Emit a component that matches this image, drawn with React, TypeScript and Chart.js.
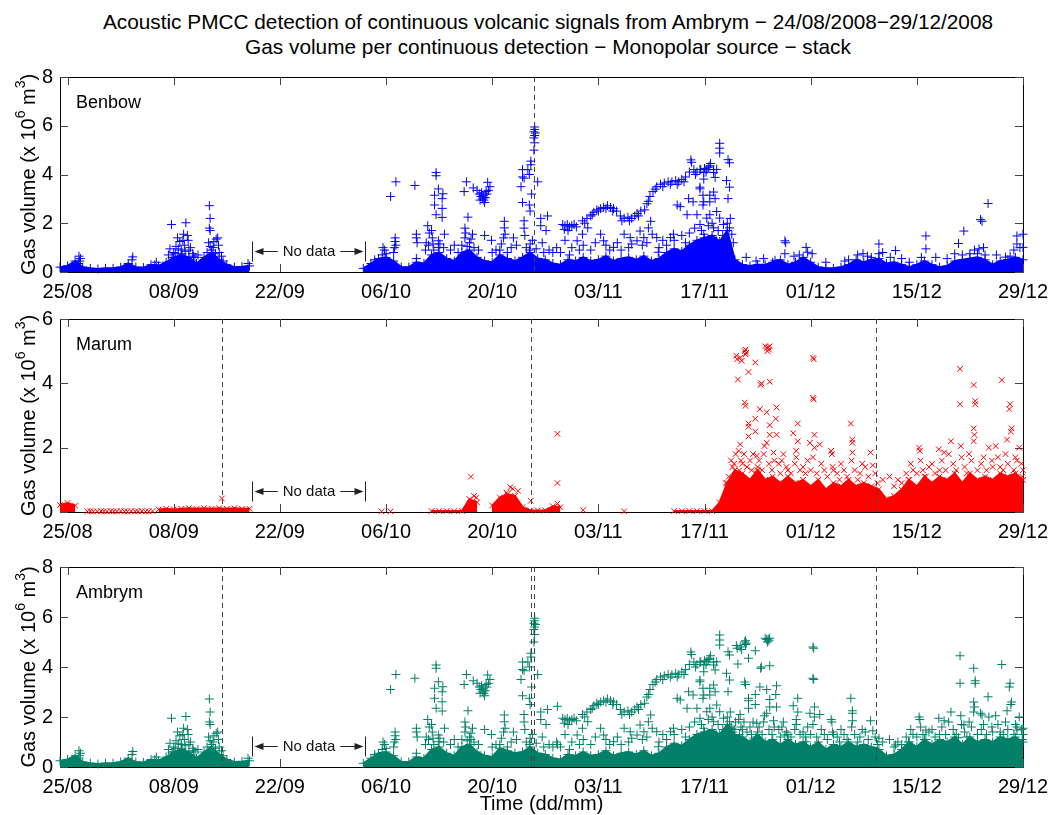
import React, { useEffect, useRef } from 'react';
import { Chart, registerables } from 'chart.js';

Chart.register(...registerables);

const FONT = '"Liberation Sans", Arial, Helvetica, sans-serif';

// x axis: days since 24/08/2008
const dayMax = 127;
const tickDays = [1, 15, 29, 43, 57, 71, 85, 99, 113, 127];
const tickLabels = ['25/08', '08/09', '22/09', '06/10', '20/10', '03/11', '17/11', '01/12', '15/12', '29/12'];
const noDataStart = 25.3;
const noDataEnd = 40.2;

const titleLine1 = 'Acoustic PMCC detection of continuous volcanic signals from Ambrym \u2212 24/08/2008\u221229/12/2008';
const titleLine2 = 'Gas volume per continuous detection \u2212 Monopolar source \u2212 stack';

// dashed event markers (day offsets)
const benbowEvents = [62.47];
const marumEvents = [21.35, 62.1, 107.6];
const ambrymEvents = [21.35, 62.1, 62.47, 107.6];

// upper edge of the dense cloud of detections, one value per day (null = no detection)
const benbowCore: (number | null)[] = [
  0.2, 0.25, 0.45, 0.2, 0.15, 0.12, 0.15, 0.15, 0.2, 0.35,
  0.2, 0.18, 0.3, 0.25, 0.4, 0.6, 0.7, 0.6, 0.35, 0.6,
  0.8, 0.5, 0.3, 0.2, 0.22, 0.25, null, null, null, null,
  null, null, null, null, null, null, null, null, null, null,
  0.15, 0.35, 0.55, 0.6, 0.45, 0.2, 0.2, 0.4, 0.35, 0.7,
  0.8, 0.55, 0.45, 0.8, 0.9, 0.6, 0.45, 0.4, 0.7, 0.55,
  0.45, 0.6, 0.8, 0.55, 0.5, 0.35, 0.3, 0.5, 0.45, 0.6,
  0.45, 0.5, 0.65, 0.45, 0.55, 0.6, 0.5, 0.65, 0.45, 0.55,
  0.8, 0.95, 0.85, 1.1, 1.3, 1.4, 1.5, 1.25, 1.7, 0.5,
  0.3, 0.25, 0.3, 0.3, 0.4, 0.5, 0.3, 0.4, 0.6, 0.4,
  0.2, 0.15, 0.15, 0.2, 0.3, 0.5, 0.4, 0.5, 0.55, 0.35,
  0.4, 0.3, 0.2, 0.3, 0.45, 0.3, 0.2, 0.25, 0.45, 0.5,
  0.55, 0.6, 0.5, 0.3, 0.45, 0.5, 0.6, 0.5,
];

const marumCore: (number | null)[] = [
  0.22, 0.28, 0.2, null, null, null, null, null, null, null,
  null, null, null, 0.08, 0.1, 0.08, 0.1, 0.12, 0.1, 0.12,
  0.1, 0.12, 0.1, 0.12, 0.1, 0.1, null, null, null, null,
  null, null, null, null, null, null, null, null, null, null,
  null, null, null, null, null, null, null, null, null, 0.03,
  0.03, 0.03, 0.03, 0.03, 0.4, 0.3, null, 0.2, 0.45, 0.55,
  0.5, 0.15, 0.05, 0.05, 0.05, 0.18, 0.15, null, null, null,
  null, null, null, null, null, null, null, null, null, null,
  null, 0.03, 0.03, 0.03, 0.03, 0.03, 0.03, 0.3, 0.9, 1.3,
  1.2, 1.0, 1.3, 1.0, 1.1, 0.9, 1.1, 0.9, 1.0, 0.8,
  1.0, 0.7, 0.9, 0.8, 1.0, 0.8, 0.9, 0.8, 0.7, 0.4,
  0.5, 0.7, 1.0, 0.8, 1.1, 0.9, 1.1, 1.0, 1.2, 0.9,
  1.2, 1.0, 1.1, 1.0, 1.2, 1.1, 1.2, 1.0,
];

const ambrymCore: (number | null)[] = [
  0.25, 0.3, 0.45, 0.2, 0.15, 0.12, 0.15, 0.15, 0.2, 0.35,
  0.2, 0.18, 0.3, 0.25, 0.4, 0.6, 0.7, 0.6, 0.35, 0.6,
  0.8, 0.5, 0.3, 0.2, 0.22, 0.25, null, null, null, null,
  null, null, null, null, null, null, null, null, null, null,
  0.15, 0.35, 0.55, 0.6, 0.45, 0.2, 0.2, 0.4, 0.35, 0.7,
  0.8, 0.55, 0.45, 0.8, 0.9, 0.6, 0.45, 0.4, 0.75, 0.65,
  0.55, 0.6, 0.8, 0.55, 0.5, 0.35, 0.3, 0.5, 0.45, 0.6,
  0.45, 0.5, 0.65, 0.45, 0.55, 0.6, 0.5, 0.65, 0.45, 0.55,
  0.8, 0.95, 0.85, 1.1, 1.3, 1.4, 1.5, 1.3, 1.7, 1.3,
  1.2, 1.0, 1.3, 1.0, 1.1, 0.9, 1.1, 0.9, 1.0, 0.8,
  1.0, 0.7, 0.9, 0.8, 1.0, 0.8, 0.9, 0.8, 0.7, 0.45,
  0.5, 0.7, 1.0, 0.8, 1.1, 0.9, 1.1, 1.0, 1.2, 0.9,
  1.2, 1.0, 1.1, 1.0, 1.2, 1.1, 1.2, 1.0,
];

type Pt = [number, number];

// scattered detections standing out of the dense cloud: [day, volume]
const benbowPoints: Pt[] = [
  [2.5, 0.65], [2.7, 0.55], [2.6, 0.45], [2.4, 0.35], [9.6, 0.62], [9.5, 0.5], [12.7, 0.4], [12.5, 0.3],
  [14.7, 1.95], [14.5, 0.95], [15.0, 0.8], [15.3, 1.05], [15.5, 1.4], [15.8, 1.25], [16.0, 0.9], [16.2, 1.3],
  [16.3, 1.55], [16.4, 1.1], [16.6, 2.02], [16.8, 1.5], [16.9, 1.3], [17.5, 0.75], [17.6, 0.65], [18.2, 0.7],
  [19.7, 2.72], [19.8, 2.2], [19.7, 1.8], [19.8, 1.7], [19.6, 1.2], [19.8, 1.05], [20.0, 0.9], [20.3, 1.25],
  [20.6, 1.35], [20.8, 1.4], [21.0, 0.8], [21.3, 0.65], [24.8, 0.35],
  [41.5, 0.5], [42.5, 0.7], [43.0, 0.75], [43.6, 3.1], [44.3, 3.7], [44.2, 1.4], [44.2, 1.25], [44.3, 1.1],
  [44.1, 1.0], [44.0, 0.8], [46.8, 3.55], [47.0, 1.55], [47.0, 1.4], [47.1, 1.2], [47.0, 0.55],
  [48.5, 1.9], [48.7, 1.6], [48.3, 1.2], [49.0, 1.7],
  [49.6, 4.08], [49.6, 3.95], [49.4, 3.15], [49.9, 3.41], [50.5, 3.21], [50.4, 3.01], [49.4, 2.75], [50.4, 2.61],
  [49.6, 2.35], [50.4, 2.24], [50.7, 1.55], [49.9, 1.28], [49.9, 1.01], [49.3, 0.9], [50.1, 1.15], [49.1, 1.4],
  [51.5, 0.9], [52.0, 1.1],
  [53.3, 3.3], [53.6, 3.7], [54.5, 3.45], [53.8, 2.25], [53.4, 1.8], [53.5, 1.6], [53.4, 1.4], [54.4, 1.55],
  [54.0, 1.2], [53.7, 1.05], [56.0, 1.5], [56.9, 1.3],
  [55.0, 3.35], [55.3, 3.2], [55.5, 3.1], [55.7, 3.0], [55.9, 2.95], [56.1, 3.05], [56.3, 3.2], [55.6, 3.25],
  [56.0, 2.85], [55.4, 2.95], [56.5, 3.35], [56.4, 3.68], [56.7, 3.5], [56.2, 3.3], [55.8, 3.15],
  [58.6, 2.08], [58.6, 1.81], [58.7, 1.55], [58.5, 1.4], [57.0, 0.8], [59.5, 1.0], [58.0, 0.9], [59.8, 1.4], [60.2, 1.1],
  [61.0, 4.2], [61.0, 3.9], [61.7, 4.2], [61.2, 3.85], [61.9, 4.0], [60.8, 3.5], [62.1, 4.4], [61.0, 2.85],
  [61.9, 2.75], [61.2, 2.1], [61.2, 1.8], [61.3, 1.5], [61.9, 0.9], [63.0, 3.7], [62.6, 5.95], [62.6, 5.85],
  [62.5, 5.75], [62.7, 5.7], [62.6, 5.6], [62.5, 5.5], [62.6, 5.3], [62.5, 5.0], [62.1, 4.55], [62.2, 3.2],
  [62.0, 2.5], [62.3, 1.3],
  [63.4, 2.2], [64.3, 2.3], [63.4, 1.9], [64.1, 1.7], [63.6, 1.2], [64.5, 0.9], [65.0, 0.8], [65.5, 1.0],
  [66.3, 1.95], [66.6, 1.9], [66.9, 1.95], [67.2, 1.85], [67.5, 1.9], [67.8, 1.95], [68.1, 1.85], [66.5, 1.75],
  [67.0, 1.7], [66.6, 1.3], [67.5, 1.0],
  [68.9, 2.1], [69.5, 2.2], [70.0, 2.3], [70.4, 2.45], [70.8, 2.55], [71.3, 2.6], [71.7, 2.65], [72.2, 2.72],
  [72.6, 2.65], [73.0, 2.6], [73.4, 2.5], [73.9, 2.3], [74.4, 2.2], [74.9, 2.25], [75.4, 2.2], [75.8, 2.3],
  [76.1, 2.4], [76.6, 2.5], [77.1, 2.55], [77.4, 2.8], [77.8, 3.1], [78.2, 3.3], [78.7, 3.5], [79.2, 3.6],
  [79.7, 3.65], [80.2, 3.7], [80.7, 3.7], [81.2, 3.75], [81.6, 3.7], [82.0, 3.8], [82.5, 3.9], [83.0, 4.1],
  [83.2, 4.6], [83.3, 4.5], [83.6, 4.2], [84.0, 4.1], [84.5, 4.2], [85.0, 4.25], [85.5, 4.3], [85.8, 4.45], [86.2, 4.2],
  [69.2, 2.0], [70.2, 2.35], [71.0, 2.5], [72.0, 2.6], [72.9, 2.5], [74.1, 2.1], [75.1, 2.1], [76.3, 2.3],
  [77.6, 2.9], [78.5, 3.4], [79.5, 3.5], [80.5, 3.6], [81.4, 3.6], [82.3, 3.7], [83.8, 4.0], [85.2, 4.1],
  [68.2, 1.28], [68.9, 1.55], [69.6, 1.81], [71.3, 1.55], [71.7, 1.28], [73.0, 1.01], [74.4, 1.55], [75.2, 1.41],
  [75.4, 1.15], [76.1, 1.28], [76.5, 1.68], [77.0, 1.41], [77.6, 1.81], [77.9, 2.08], [78.1, 1.55], [78.7, 1.41],
  [78.9, 0.81], [80.5, 1.41], [80.9, 1.55], [81.4, 2.75], [81.8, 2.68], [82.7, 2.35], [82.9, 3.01], [83.5, 2.88],
  [84.0, 2.35], [84.4, 3.48], [84.8, 3.15], [84.8, 2.75], [85.3, 2.21], [85.7, 2.88], [86.2, 3.28],
  [87.0, 5.28], [87.0, 5.08], [87.0, 4.88], [88.1, 4.61], [88.3, 4.48], [87.9, 3.75], [88.3, 3.48], [88.1, 3.01],
  [86.6, 4.21], [85.7, 4.35], [85.3, 4.21], [84.9, 4.08], [84.4, 4.21], [86.2, 4.08], [86.4, 3.88], [84.9, 3.81],
  [84.4, 3.41], [84.9, 2.88], [85.7, 3.15], [86.4, 3.01], [86.6, 2.48], [87.0, 2.21], [85.7, 2.35], [84.4, 1.95],
  [86.2, 1.81], [84.9, 1.55], [87.5, 1.95], [88.3, 1.81], [88.6, 1.55], [86.6, 1.28], [85.3, 1.15], [87.9, 1.15],
  [95.6, 1.28], [95.6, 0.75], [95.7, 1.2], [98.4, 1.01], [98.6, 0.81], [99.2, 0.75], [105.9, 0.75], [108.0, 1.15],
  [108.0, 0.75], [110.2, 0.88], [114.2, 1.48], [114.2, 0.95], [119.2, 1.68], [118.5, 1.17], [121.4, 2.15], [121.6, 2.08],
  [122.4, 2.81], [121.2, 0.95], [121.0, 0.75], [126.2, 1.48], [127.0, 1.55], [126.2, 1.15], [127.0, 1.01], [124.7, 0.61],
  [125.3, 0.65], [94.3, 0.48], [91.8, 0.45], [104.0, 0.5], [107.0, 0.6], [112.0, 0.4], [117.0, 0.55], [119.0, 0.7],
  [120.0, 0.75], [122.0, 0.7],
];

// denser towers of detections just above the solid cloud
const benbowTowers: Pt[] = [
  [14.3, 0.7], [14.8, 0.6], [15.2, 0.75], [15.6, 0.95], [16.1, 0.75], [16.5, 0.85], [17.0, 0.9], [17.2, 1.0],
  [17.8, 0.6], [19.4, 0.8], [19.9, 0.65], [20.2, 1.0], [20.5, 0.75], [20.9, 1.1], [21.5, 0.45],
  [42.6, 1.0], [42.8, 0.9], [48.2, 0.9], [48.6, 1.1], [49.2, 1.15], [50.6, 1.0], [52.5, 0.8], [53.0, 1.1],
  [54.2, 1.35], [54.6, 1.0], [55.2, 0.9], [57.5, 0.9], [58.2, 1.15], [59.0, 0.8], [61.5, 1.0], [62.0, 1.15],
  [62.8, 0.95], [63.8, 0.8], [66.0, 0.8], [67.2, 0.7], [68.5, 0.9], [69.0, 1.1], [70.0, 0.9], [70.6, 1.2],
  [72.0, 1.1], [72.5, 0.9], [73.5, 1.2], [74.0, 0.9], [75.0, 1.0], [76.8, 1.1], [77.4, 1.2], [79.0, 1.0],
  [79.5, 1.3], [80.0, 1.1], [81.0, 1.3], [82.0, 1.5], [82.5, 1.2], [83.0, 1.6], [83.7, 1.8], [84.6, 1.7],
  [85.5, 1.9], [86.0, 2.0], [86.8, 1.7], [87.4, 1.5], [88.0, 2.0], [88.4, 2.2], [88.8, 1.2],
  [90.5, 0.6], [92.8, 0.55], [96.8, 0.65], [97.5, 0.7], [101.0, 0.4], [103.5, 0.45], [105.2, 0.7], [106.5, 0.65],
  [108.5, 0.8], [109.5, 0.6], [111.0, 0.55], [113.6, 0.6], [115.5, 0.6], [118.0, 0.75], [120.6, 0.9], [121.8, 1.0],
  [123.5, 0.7], [125.8, 0.9], [126.6, 1.0],
];

const marumPoints: Pt[] = [
  [3.6, 0.02], [4.0, 0.03], [4.4, 0.02], [4.9, 0.02], [5.4, 0.03], [5.8, 0.02], [6.2, 0.02], [6.7, 0.03],
  [7.1, 0.02], [7.5, 0.02], [8.0, 0.03], [8.5, 0.02], [8.9, 0.02], [9.4, 0.03], [9.9, 0.02], [10.3, 0.02],
  [10.8, 0.03], [11.3, 0.02], [11.7, 0.02], [12.2, 0.03],
  [21.35, 0.42], [42.4, 0.02], [43.6, 0.02],
  [54.2, 1.1], [54.6, 0.5], [54.9, 0.45], [58.4, 0.41], [59.4, 0.77], [59.7, 0.72], [60.4, 0.66], [58.9, 0.6],
  [62.1, 0.35], [65.6, 2.43], [65.6, 0.9], [65.6, 0.26], [69.0, 0.06], [74.4, 0.02],
  [89.2, 4.86], [89.3, 4.75], [89.7, 4.8], [89.9, 4.7], [90.3, 5.0], [90.4, 4.9], [90.5, 4.95], [90.4, 5.05],
  [89.4, 4.12], [90.8, 4.35], [91.7, 4.65],
  [93.0, 5.15], [93.2, 5.1], [93.4, 5.12], [93.5, 5.05], [93.6, 5.15], [93.3, 5.0],
  [92.5, 4.0], [92.4, 3.95], [93.6, 4.05],
  [90.3, 3.4], [90.4, 3.3], [90.8, 2.75], [90.8, 2.65], [91.7, 2.9], [92.3, 3.2], [93.2, 3.1], [94.5, 3.25],
  [94.4, 2.9], [93.6, 2.7], [93.6, 2.4], [90.8, 2.35], [91.7, 2.5], [93.2, 2.15], [89.7, 2.1], [89.5, 1.9],
  [91.9, 1.75], [92.9, 2.05], [94.1, 1.85], [94.5, 2.4],
  [99.3, 4.8], [99.4, 4.75], [99.3, 3.55], [99.4, 3.5], [99.5, 2.4], [99.5, 2.0], [99.3, 1.7],
  [97.3, 2.75], [96.7, 2.45], [97.3, 2.2], [97.1, 1.9], [97.1, 1.7], [95.4, 1.8], [100.2, 2.1], [98.9, 2.15],
  [101.7, 1.9], [101.8, 1.8], [101.9, 1.4],
  [104.3, 2.75], [104.5, 2.25], [104.5, 2.15], [104.5, 1.85], [104.4, 1.6],
  [106.9, 1.85], [107.2, 1.45], [109.4, 1.1], [111.6, 1.2], [113.3, 2.0], [113.4, 1.9], [113.5, 1.6],
  [115.9, 1.95], [116.6, 1.85], [117.5, 2.2], [117.2, 1.8],
  [118.7, 4.45], [118.7, 3.35], [118.8, 2.05],
  [120.5, 3.95], [120.7, 3.45], [120.7, 3.35], [120.5, 2.6], [120.6, 2.4], [120.5, 2.2], [119.9, 1.8],
  [124.2, 4.1], [125.3, 3.35], [125.2, 3.2], [125.5, 2.6], [125.4, 2.5], [124.9, 2.25], [126.8, 1.5], [122.5, 2.0],
  [123.4, 2.05],
];

const marumTowers: Pt[] = [
  [88.5, 1.6], [88.7, 1.4], [90.0, 1.5], [91.0, 1.6], [92.0, 1.4], [94.8, 1.5], [96.0, 1.3], [98.0, 1.4],
  [100.8, 1.3], [102.5, 1.2], [103.4, 1.3], [105.5, 1.2], [106.2, 1.4], [110.5, 1.0], [112.5, 1.3], [114.6, 1.4],
  [116.0, 1.3], [119.3, 1.4], [121.5, 1.5], [122.9, 1.6], [124.0, 1.4], [126.0, 1.7], [126.5, 2.0], [127.0, 1.3],
  [87.8, 0.9], [88.2, 1.1], [88.9, 1.5], [89.1, 1.8], [89.6, 1.3], [89.8, 1.6], [90.2, 1.8], [90.6, 1.4],
  [91.2, 1.3], [91.4, 1.8], [91.8, 1.2], [92.2, 1.6], [92.6, 1.3], [92.8, 1.8], [93.5, 1.5], [93.9, 1.3],
  [94.2, 1.6], [95.0, 1.2], [95.2, 1.6], [95.8, 1.4], [96.4, 1.2], [96.9, 1.5], [97.6, 1.3], [98.3, 1.2],
  [98.6, 1.6], [99.0, 1.3], [99.8, 1.2], [100.4, 1.5], [101.2, 1.1], [102.0, 1.3], [102.8, 1.0], [103.0, 1.5],
  [103.8, 1.1], [104.8, 1.3], [105.2, 1.0], [105.8, 1.5], [106.6, 1.1], [107.5, 1.2], [107.8, 0.9], [108.5, 1.0],
  [110.0, 0.8], [111.0, 0.9], [111.9, 1.0], [112.2, 1.5], [113.0, 1.2], [113.8, 1.3], [114.2, 1.1], [115.0, 1.5],
  [115.4, 1.2], [116.3, 1.6], [116.8, 1.3], [117.8, 1.5], [118.2, 1.3], [118.9, 1.7], [119.6, 1.2], [120.2, 1.6],
  [121.0, 1.3], [121.8, 1.7], [122.2, 1.3], [123.0, 1.4], [123.7, 1.7], [124.4, 1.3], [124.7, 1.8], [125.0, 1.5],
  [125.8, 1.3], [126.2, 1.6], [126.9, 1.1],
];

const ambrymPoints: Pt[] = [
  [2.5, 0.65], [2.7, 0.55], [2.6, 0.45], [2.4, 0.35], [9.6, 0.62], [9.5, 0.5], [12.7, 0.4], [12.5, 0.3],
  [14.7, 1.95], [14.5, 0.95], [15.0, 0.8], [15.3, 1.05], [15.5, 1.4], [15.8, 1.25], [16.0, 0.9], [16.2, 1.3],
  [16.3, 1.55], [16.4, 1.1], [16.6, 2.02], [16.8, 1.5], [16.9, 1.3], [17.5, 0.75], [17.6, 0.65], [18.2, 0.7],
  [19.7, 2.72], [19.8, 2.2], [19.7, 1.8], [19.8, 1.7], [19.6, 1.2], [19.8, 1.05], [20.0, 0.9], [20.3, 1.25],
  [20.6, 1.35], [20.8, 1.4], [21.0, 0.8], [21.3, 0.65], [24.8, 0.35],
  [41.5, 0.5], [42.5, 0.7], [43.0, 0.75], [43.6, 3.1], [44.3, 3.7], [44.2, 1.4], [44.2, 1.25], [44.3, 1.1],
  [44.1, 1.0], [44.0, 0.8], [46.8, 3.55], [47.0, 1.55], [47.0, 1.4], [47.1, 1.2], [47.0, 0.55],
  [48.5, 1.9], [48.7, 1.6], [48.3, 1.2], [49.0, 1.7],
  [49.6, 4.08], [49.6, 3.95], [49.4, 3.15], [49.9, 3.41], [50.5, 3.21], [50.4, 3.01], [49.4, 2.75], [50.4, 2.61],
  [49.6, 2.35], [50.4, 2.24], [50.7, 1.55], [49.9, 1.28], [49.9, 1.01], [49.3, 0.9], [50.1, 1.15], [49.1, 1.4],
  [51.5, 0.9], [52.0, 1.1],
  [53.3, 3.3], [53.6, 3.7], [54.5, 3.45], [53.8, 2.25], [53.4, 1.8], [53.5, 1.6], [53.4, 1.4], [54.4, 1.55],
  [54.0, 1.2], [53.7, 1.05], [56.0, 1.5], [56.9, 1.3], [54.2, 1.1],
  [55.0, 3.35], [55.3, 3.2], [55.5, 3.1], [55.7, 3.0], [55.9, 2.95], [56.1, 3.05], [56.3, 3.2], [55.6, 3.25],
  [56.0, 2.85], [55.4, 2.95], [56.5, 3.35], [56.4, 3.68], [56.7, 3.5], [56.2, 3.3], [55.8, 3.15],
  [58.6, 2.08], [58.6, 1.81], [58.7, 1.55], [58.5, 1.4], [57.0, 0.8], [59.5, 1.0], [58.0, 0.9], [59.8, 1.4], [60.2, 1.1],
  [61.0, 4.2], [61.0, 3.9], [61.7, 4.2], [61.2, 3.85], [61.9, 4.0], [60.8, 3.5], [62.1, 4.4], [61.0, 2.85],
  [61.9, 2.75], [61.2, 2.1], [61.2, 1.8], [61.3, 1.5], [61.9, 0.9], [63.0, 3.7], [62.6, 5.95], [62.6, 5.85],
  [62.5, 5.75], [62.7, 5.7], [62.6, 5.6], [62.5, 5.5], [62.6, 5.3], [62.5, 5.0], [62.1, 4.55], [62.2, 3.2],
  [62.0, 2.5], [62.3, 1.3],
  [63.4, 2.2], [64.3, 2.3], [63.4, 1.9], [64.1, 1.7], [63.6, 1.2], [64.5, 0.9], [65.0, 0.8], [65.5, 1.0],
  [65.6, 2.43], [65.6, 0.9],
  [66.3, 1.95], [66.6, 1.9], [66.9, 1.95], [67.2, 1.85], [67.5, 1.9], [67.8, 1.95], [68.1, 1.85], [66.5, 1.75],
  [67.0, 1.7], [66.6, 1.3], [67.5, 1.0],
  [68.9, 2.1], [69.5, 2.2], [70.0, 2.3], [70.4, 2.45], [70.8, 2.55], [71.3, 2.6], [71.7, 2.65], [72.2, 2.72],
  [72.6, 2.65], [73.0, 2.6], [73.4, 2.5], [73.9, 2.3], [74.4, 2.2], [74.9, 2.25], [75.4, 2.2], [75.8, 2.3],
  [76.1, 2.4], [76.6, 2.5], [77.1, 2.55], [77.4, 2.8], [77.8, 3.1], [78.2, 3.3], [78.7, 3.5], [79.2, 3.6],
  [79.7, 3.65], [80.2, 3.7], [80.7, 3.7], [81.2, 3.75], [81.6, 3.7], [82.0, 3.8], [82.5, 3.9], [83.0, 4.1],
  [83.2, 4.6], [83.3, 4.5], [83.6, 4.2], [84.0, 4.1], [84.5, 4.2], [85.0, 4.25], [85.5, 4.3], [85.8, 4.45], [86.2, 4.2],
  [69.2, 2.0], [70.2, 2.35], [71.0, 2.5], [72.0, 2.6], [72.9, 2.5], [74.1, 2.1], [75.1, 2.1], [76.3, 2.3],
  [77.6, 2.9], [78.5, 3.4], [79.5, 3.5], [80.5, 3.6], [81.4, 3.6], [82.3, 3.7], [83.8, 4.0], [85.2, 4.1],
  [68.2, 1.28], [68.9, 1.55], [69.6, 1.81], [71.3, 1.55], [71.7, 1.28], [73.0, 1.01], [74.4, 1.55], [75.2, 1.41],
  [75.4, 1.15], [76.1, 1.28], [76.5, 1.68], [77.0, 1.41], [77.6, 1.81], [77.9, 2.08], [78.1, 1.55], [78.7, 1.41],
  [78.9, 0.81], [80.5, 1.41], [80.9, 1.55], [81.4, 2.75], [81.8, 2.68], [82.7, 2.35], [82.9, 3.01], [83.5, 2.88],
  [84.0, 2.35], [84.4, 3.48], [84.8, 3.15], [84.8, 2.75], [85.3, 2.21], [85.7, 2.88], [86.2, 3.28],
  [87.0, 5.28], [87.0, 5.08], [87.0, 4.88], [88.1, 4.61], [88.3, 4.48], [87.9, 3.75], [88.3, 3.48], [88.1, 3.01],
  [86.6, 4.21], [85.7, 4.35], [85.3, 4.21], [84.9, 4.08], [84.4, 4.21], [86.2, 4.08], [86.4, 3.88], [84.9, 3.81],
  [84.4, 3.41], [84.9, 2.88], [85.7, 3.15], [86.4, 3.01], [86.6, 2.48], [87.0, 2.21], [85.7, 2.35], [84.4, 1.95],
  [86.2, 1.81], [84.9, 1.55], [87.5, 1.95], [88.3, 1.81], [88.6, 1.55], [86.6, 1.28], [85.3, 1.15], [87.9, 1.15],
  [89.2, 4.86], [89.3, 4.75], [89.7, 4.8], [89.9, 4.7], [90.3, 5.0], [90.4, 4.9], [90.5, 4.95], [90.4, 5.05],
  [89.4, 4.12], [90.8, 4.35], [91.7, 4.65],
  [93.0, 5.15], [93.2, 5.1], [93.4, 5.12], [93.5, 5.05], [93.6, 5.15], [93.3, 5.0],
  [92.5, 4.0], [92.4, 3.95], [93.6, 4.05],
  [90.3, 3.4], [90.4, 3.3], [90.8, 2.75], [90.8, 2.65], [91.7, 2.9], [92.3, 3.2], [93.2, 3.1], [94.5, 3.25],
  [94.4, 2.9], [93.6, 2.7], [93.6, 2.4], [90.8, 2.35], [91.7, 2.5], [93.2, 2.15], [89.7, 2.1], [89.5, 1.9],
  [91.9, 1.75], [92.9, 2.05], [94.1, 1.85], [94.5, 2.4],
  [99.3, 4.8], [99.4, 4.75], [99.3, 3.55], [99.4, 3.5], [99.5, 2.4], [99.5, 2.0], [99.3, 1.7],
  [97.3, 2.75], [96.7, 2.45], [97.3, 2.2], [97.1, 1.9], [97.1, 1.7], [95.4, 1.8], [100.2, 2.1], [98.9, 2.15],
  [101.7, 1.9], [101.8, 1.8], [101.9, 1.4],
  [104.3, 2.75], [104.5, 2.25], [104.5, 2.15], [104.5, 1.85], [104.4, 1.6],
  [106.9, 1.85], [107.2, 1.45], [109.4, 1.1], [111.6, 1.2], [113.3, 2.0], [113.4, 1.9], [113.5, 1.6],
  [115.9, 1.95], [116.6, 1.85], [117.5, 2.2], [117.2, 1.8],
  [118.7, 4.45], [118.7, 3.35], [118.8, 2.05],
  [120.5, 3.95], [120.7, 3.45], [120.7, 3.35], [120.5, 2.6], [120.6, 2.4], [120.5, 2.2], [119.9, 1.8],
  [124.2, 4.1], [125.3, 3.35], [125.2, 3.2], [125.5, 2.6], [125.4, 2.5], [124.9, 2.25], [126.8, 1.5], [122.5, 2.0],
  [123.4, 2.05],
  [95.6, 1.28], [98.4, 1.01], [108.0, 1.15], [110.2, 0.88], [114.2, 1.48], [119.2, 1.68], [118.5, 1.17], [121.4, 2.15],
  [121.6, 2.08], [122.4, 2.81], [126.2, 1.48], [127.0, 1.55],
];

const ambrymTowers: Pt[] = [
  [14.3, 0.7], [14.8, 0.6], [15.2, 0.75], [15.6, 0.95], [16.1, 0.75], [16.5, 0.85], [17.0, 0.9], [17.2, 1.0],
  [17.8, 0.6], [19.4, 0.8], [19.9, 0.65], [20.2, 1.0], [20.5, 0.75], [20.9, 1.1], [21.5, 0.45],
  [42.6, 1.0], [42.8, 0.9], [48.2, 0.9], [48.6, 1.1], [49.2, 1.15], [50.6, 1.0], [52.5, 0.8], [53.0, 1.1],
  [54.2, 1.35], [54.6, 1.0], [55.2, 0.9], [57.5, 0.9], [58.2, 1.15], [59.0, 0.8], [61.5, 1.0], [62.0, 1.15],
  [62.8, 0.95], [63.8, 0.8], [66.0, 0.8], [67.2, 0.7], [68.5, 0.9], [69.0, 1.1], [70.0, 0.9], [70.6, 1.2],
  [72.0, 1.1], [72.5, 0.9], [73.5, 1.2], [74.0, 0.9], [75.0, 1.0], [76.8, 1.1], [77.4, 1.2], [79.0, 1.0],
  [79.5, 1.3], [80.0, 1.1], [81.0, 1.3], [82.0, 1.5], [82.5, 1.2], [83.0, 1.6], [83.7, 1.8], [84.6, 1.7],
  [85.5, 1.9], [86.0, 2.0], [86.8, 1.7], [87.4, 1.5], [88.0, 2.0], [88.4, 2.2], [88.8, 1.2],
  [88.5, 1.6], [88.7, 1.4], [90.0, 1.5], [91.0, 1.6], [92.0, 1.4], [94.8, 1.5], [96.0, 1.3], [98.0, 1.4],
  [100.8, 1.3], [102.5, 1.2], [103.4, 1.3], [105.5, 1.2], [106.2, 1.4], [110.5, 1.0], [112.5, 1.3], [114.6, 1.4],
  [116.0, 1.3], [119.3, 1.4], [121.5, 1.5], [122.9, 1.6], [124.0, 1.4], [126.0, 1.7], [126.5, 2.0], [127.0, 1.3],
  [87.8, 0.9], [88.2, 1.1], [88.9, 1.5], [89.1, 1.8], [89.6, 1.3], [89.8, 1.6], [90.2, 1.8], [90.6, 1.4],
  [91.2, 1.3], [91.4, 1.8], [91.8, 1.2], [92.2, 1.6], [92.6, 1.3], [92.8, 1.8], [93.5, 1.5], [93.9, 1.3],
  [94.2, 1.6], [95.0, 1.2], [95.2, 1.6], [95.8, 1.4], [96.4, 1.2], [96.9, 1.5], [97.6, 1.3], [98.3, 1.2],
  [98.6, 1.6], [99.0, 1.3], [99.8, 1.2], [100.4, 1.5], [101.2, 1.1], [102.0, 1.3], [102.8, 1.0], [103.0, 1.5],
  [103.8, 1.1], [104.8, 1.3], [105.2, 1.0], [105.8, 1.5], [106.6, 1.1], [107.5, 1.2], [107.8, 0.9], [108.5, 1.0],
  [110.0, 0.8], [111.0, 0.9], [111.9, 1.0], [112.2, 1.5], [113.0, 1.2], [113.8, 1.3], [114.2, 1.1], [115.0, 1.5],
  [115.4, 1.2], [116.3, 1.6], [116.8, 1.3], [117.8, 1.5], [118.2, 1.3], [118.9, 1.7], [119.6, 1.2], [120.2, 1.6],
  [121.0, 1.3], [121.8, 1.7], [122.2, 1.3], [123.0, 1.4], [123.7, 1.7], [124.4, 1.3], [124.7, 1.8], [125.0, 1.5],
  [125.8, 1.3], [126.2, 1.6], [126.9, 1.1],
];

type PanelSpec = {
  name: string;
  yMax: number;
  color: string;
  marker: 'cross' | 'crossRot';
  radius: number;
  core: (number | null)[];
  points: Pt[];
  towers: Pt[];
  events: number[];
  noDataLevel: number;
  plotTop: number;
  plotBottom: number;
  showXTitle: boolean;
};

const PAGE_W = 1056;
const PLOT_LEFT = 60;
const PLOT_RIGHT = 1028;
const PAD_TOP = 14;
const X_AXIS_H = 32;

const panels: PanelSpec[] = [
  { name: 'Benbow', yMax: 8, color: 'rgb(0,0,255)', marker: 'cross', radius: 4.5, core: benbowCore, points: benbowPoints, towers: benbowTowers, events: benbowEvents, noDataLevel: 0.88, plotTop: 72, plotBottom: 272, showXTitle: false },
  { name: 'Marum', yMax: 6, color: 'rgb(255,0,0)', marker: 'crossRot', radius: 4, core: marumCore, points: marumPoints, towers: marumTowers, events: marumEvents, noDataLevel: 0.64, plotTop: 314, plotBottom: 512, showXTitle: false },
  { name: 'Ambrym', yMax: 8, color: 'rgb(0,128,104)', marker: 'cross', radius: 4.5, core: ambrymCore, points: ambrymPoints, towers: ambrymTowers, events: ambrymEvents, noDataLevel: 0.83, plotTop: 562, plotBottom: 767, showXTitle: true },
];

function makeDecor(p: PanelSpec) {
  return {
    id: 'decor',
    beforeDatasetsDraw(chart: any) {
      const { ctx, chartArea: a, scales } = chart;
      const x = scales.x;
      const y = scales.y;
      ctx.save();
      ctx.strokeStyle = '#000';
      ctx.lineWidth = 1;
      ctx.beginPath();
      ctx.rect(a.left + 0.5, a.top + 0.5, a.right - a.left, a.bottom - a.top);
      ctx.stroke();
      ctx.strokeStyle = '#444';
      ctx.beginPath();
      for (const d of tickDays) {
        const px = Math.round(x.getPixelForValue(d)) + 0.5;
        ctx.moveTo(px, a.bottom);
        ctx.lineTo(px, a.bottom - 8);
        ctx.moveTo(px, a.top);
        ctx.lineTo(px, a.top + 8);
      }
      for (const t of y.ticks) {
        const py = Math.round(y.getPixelForValue(t.value)) + 0.5;
        ctx.moveTo(a.left, py);
        ctx.lineTo(a.left + 8, py);
        ctx.moveTo(a.right, py);
        ctx.lineTo(a.right - 8, py);
      }
      ctx.stroke();
      ctx.restore();
    },
    afterDatasetsDraw(chart: any) {
      const { ctx, chartArea: a, scales } = chart;
      const x = scales.x;
      const y = scales.y;
      ctx.save();
      // dashed event lines
      ctx.strokeStyle = '#444';
      ctx.lineWidth = 1;
      ctx.setLineDash([5, 4]);
      ctx.beginPath();
      for (const d of p.events) {
        const px = Math.round(x.getPixelForValue(d)) + 0.5;
        ctx.moveTo(px, a.top);
        ctx.lineTo(px, a.bottom);
      }
      ctx.stroke();
      ctx.setLineDash([]);

      // no data annotation
      const ya = Math.round(y.getPixelForValue(p.noDataLevel)) + 0.5;
      const xl = Math.round(x.getPixelForValue(noDataStart)) + 0.5;
      const xr = Math.round(x.getPixelForValue(noDataEnd)) + 0.5;
      ctx.strokeStyle = '#222';
      ctx.fillStyle = '#222';
      ctx.beginPath();
      ctx.moveTo(xl, ya - 10);
      ctx.lineTo(xl, ya + 10);
      ctx.moveTo(xr, ya - 10);
      ctx.lineTo(xr, ya + 10);
      ctx.stroke();
      ctx.font = `15px ${FONT}`;
      ctx.textAlign = 'center';
      ctx.textBaseline = 'middle';
      const cx = (xl + xr) / 2;
      const tw = ctx.measureText('No data').width;
      ctx.fillStyle = '#111';
      ctx.fillText('No data', cx, ya);
      ctx.fillStyle = '#222';
      const l1 = xl + 2;
      const l2 = cx - tw / 2 - 5;
      const r1 = cx + tw / 2 + 5;
      const r2 = xr - 2;
      ctx.beginPath();
      ctx.moveTo(l1 + 8, ya);
      ctx.lineTo(l2, ya);
      ctx.moveTo(r1, ya);
      ctx.lineTo(r2 - 8, ya);
      ctx.stroke();
      ctx.beginPath();
      ctx.moveTo(l1, ya);
      ctx.lineTo(l1 + 9, ya - 3.5);
      ctx.lineTo(l1 + 9, ya + 3.5);
      ctx.closePath();
      ctx.moveTo(r2, ya);
      ctx.lineTo(r2 - 9, ya - 3.5);
      ctx.lineTo(r2 - 9, ya + 3.5);
      ctx.closePath();
      ctx.fill();

      // panel label
      ctx.fillStyle = '#000';
      ctx.font = `18px ${FONT}`;
      ctx.textAlign = 'left';
      ctx.textBaseline = 'middle';
      ctx.fillText(p.name, a.left + 16, a.top + 26);

      // y axis title with superscripts
      const parts: [string, boolean][] = [['Gas volume (x 10', false], ['6', true], [' m', false], ['3', true], [')', false]];
      const mainFont = `20px ${FONT}`;
      const supFont = `14px ${FONT}`;
      let total = 0;
      for (const [t, sup] of parts) {
        ctx.font = sup ? supFont : mainFont;
        total += ctx.measureText(t).width;
      }
      ctx.translate(35, (a.top + a.bottom) / 2);
      ctx.rotate(-Math.PI / 2);
      ctx.textBaseline = 'alphabetic';
      let cur = -total / 2;
      for (const [t, sup] of parts) {
        ctx.font = sup ? supFont : mainFont;
        ctx.fillText(t, cur, sup ? -10 : 0);
        cur += ctx.measureText(t).width;
      }
      ctx.setTransform(1, 0, 0, 1, 0, 0);

      if (p.showXTitle) {
        ctx.font = `20px ${FONT}`;
        ctx.textAlign = 'center';
        ctx.textBaseline = 'middle';
        ctx.fillText('Time (dd/mm)', (a.left + a.right) / 2, a.bottom + 37);
      }
      ctx.restore();
    },
  };
}

function Panel({ p }: { p: PanelSpec }) {
  const ref = useRef<HTMLCanvasElement | null>(null);
  const padBottom = p.showXTitle ? 16 : 0;
  const height = PAD_TOP + (p.plotBottom - p.plotTop) + X_AXIS_H + padBottom;

  useEffect(() => {
    const canvas = ref.current;
    if (!canvas) return;
    const pointSet = (pts: Pt[]) => ({
      type: 'scatter',
      data: pts.map(([d, v]) => ({ x: d, y: v })),
      showLine: false,
      pointStyle: p.marker,
      pointRadius: p.radius,
      pointBorderWidth: 1,
      borderColor: p.color,
      pointBorderColor: p.color,
      backgroundColor: p.color,
      pointBackgroundColor: p.color,
      clip: false,
    });
    const chart = new Chart(canvas, {
      type: 'scatter',
      data: {
        datasets: [
          {
            type: 'line',
            data: p.core.map((v, i) => ({ x: i, y: v })),
            borderColor: p.color,
            backgroundColor: p.color,
            borderWidth: 2,
            fill: 'origin',
            spanGaps: false,
            tension: 0,
            pointStyle: p.marker,
            pointRadius: p.radius,
            pointBorderWidth: 1,
            pointBorderColor: p.color,
            pointBackgroundColor: p.color,
            clip: false,
          } as any,
          pointSet(p.towers) as any,
          pointSet(p.points) as any,
        ],
      },
      options: {
        responsive: false,
        animation: false,
        devicePixelRatio: 1,
        events: [],
        layout: { padding: { top: PAD_TOP, right: PAGE_W - PLOT_RIGHT, bottom: padBottom, left: 0 } },
        plugins: { legend: { display: false }, tooltip: { enabled: false }, title: { display: false } },
        scales: {
          x: {
            type: 'linear',
            min: 0,
            max: dayMax,
            afterFit: (s: any) => { s.height = X_AXIS_H; },
            afterBuildTicks: (s: any) => { s.ticks = tickDays.map((v) => ({ value: v })); },
            ticks: {
              autoSkip: false,
              maxRotation: 0,
              minRotation: 0,
              padding: 8,
              color: '#000',
              font: { family: FONT, size: 20 },
              callback: (_v: any, i: number) => tickLabels[i] ?? '',
            },
            grid: { display: false, drawTicks: false },
            border: { display: false },
          },
          y: {
            type: 'linear',
            min: 0,
            max: p.yMax,
            afterFit: (s: any) => { s.width = PLOT_LEFT; },
            ticks: { stepSize: 2, padding: 7, color: '#000', font: { family: FONT, size: 20 } },
            grid: { display: false, drawTicks: false },
            border: { display: false },
          },
        },
      } as any,
      plugins: [makeDecor(p)],
    });
    return () => chart.destroy();
  }, [p]);

  return (
    <canvas
      ref={ref}
      width={PAGE_W}
      height={height}
      style={{ position: 'absolute', left: 0, top: p.plotTop - PAD_TOP, width: PAGE_W, height }}
    />
  );
}

export default function App() {
  const titleStyle: React.CSSProperties = {
    position: 'absolute',
    left: 548,
    transform: 'translateX(-50%)',
    whiteSpace: 'nowrap',
    fontFamily: FONT,
    fontSize: 20.8,
    lineHeight: '24px',
    color: '#000',
  };
  return (
    <div style={{ position: 'absolute', left: 0, top: 0, width: PAGE_W, height: 815, background: '#fff', overflow: 'hidden' }}>
      <div style={{ ...titleStyle, top: 10 }}>{titleLine1}</div>
      <div style={{ ...titleStyle, top: 35 }}>{titleLine2}</div>
      {panels.map((p) => (
        <Panel key={p.name} p={p} />
      ))}
    </div>
  );
}
